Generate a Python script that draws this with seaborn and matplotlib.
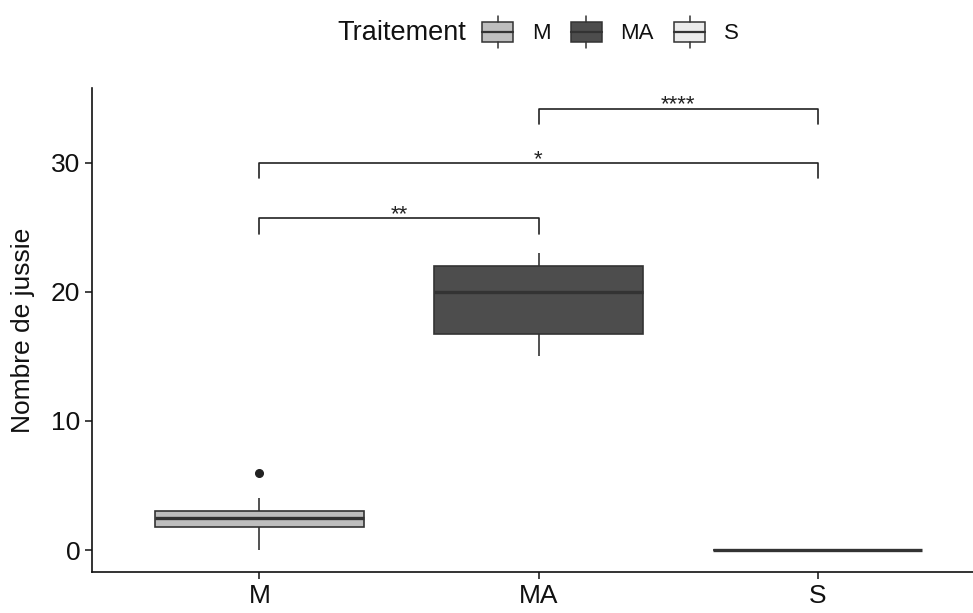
import numpy as np
import pandas as pd
import seaborn as sns
import matplotlib
matplotlib.use("Agg")
import matplotlib.pyplot as plt
from matplotlib.legend_handler import HandlerBase
from matplotlib.patches import Rectangle, Patch
from matplotlib.lines import Line2D

# Counts of jussie per treatment
traitements = ["M", "MA", "S"]
nombre_M = [0, 1, 1, 2, 2, 2, 3, 3, 3, 3, 4, 6]
nombre_MA = [15, 16, 16, 17, 19, 20, 20, 21, 22, 22, 23, 23]
nombre_S = [0, 0, 0, 0, 0, 0, 0, 0, 0, 0, 0, 0]
couleurs = ["#BEBEBE", "#4D4D4D", "#EBEBEB"]

# Pairwise comparisons and their significance labels
paires = [("M", "MA"), ("M", "S"), ("MA", "S")]
signif = ["**", "*", "****"]
hauteurs = [25.7, 30.0, 34.2]

df = pd.DataFrame({
    "Traitement": (["M"] * len(nombre_M) + ["MA"] * len(nombre_MA)
                   + ["S"] * len(nombre_S)),
    "Nombre": nombre_M + nombre_MA + nombre_S,
})

sns.set_theme(style="ticks")
plt.rcParams["font.family"] = ["Liberation Sans", "DejaVu Sans"]

fig = plt.figure(figsize=(9.73, 6.13), dpi=100)
ax = fig.add_axes([92 / 973, 41 / 613, 893 / 973, 484 / 613])

edge = "#333333"
sns.boxplot(
    data=df, x="Traitement", y="Nombre", hue="Traitement",
    order=traitements, hue_order=traitements, palette=couleurs,
    dodge=False, width=0.75, legend=False, ax=ax,
    linewidth=1.2, linecolor=edge,
    whis=1.5,
    medianprops=dict(color=edge, linewidth=2.4),
    whiskerprops=dict(color=edge, linewidth=1.2),
    capprops=dict(linewidth=0),
    flierprops=dict(marker="o", markerfacecolor="#222222",
                    markeredgecolor="#222222", markersize=5.5),
)

ax.set_xlim(-0.6, 2.6)
ax.set_ylim(-1.7, 35.8)
ax.set_yticks([0, 10, 20, 30])
ax.set_xlabel("")
ax.set_ylabel("Nombre de jussie", fontsize=19, color="#111111")
ax.yaxis.set_label_coords(-0.064, 0.5)
ax.tick_params(axis="both", labelsize=19, colors="#111111", length=5,
               width=1.1, direction="out")
for s in ["top", "right"]:
    ax.spines[s].set_visible(False)
for s in ["left", "bottom"]:
    ax.spines[s].set_linewidth(1.2)
    ax.spines[s].set_color("#111111")

# Significance brackets
pos = {t: i for i, t in enumerate(traitements)}
tip = 1.2
for (a, b), lab, h in zip(paires, signif, hauteurs):
    xa, xb = pos[a], pos[b]
    ax.plot([xa, xa, xb, xb], [h - tip, h, h, h - tip],
            color="#222222", linewidth=1.2, clip_on=False)
    ax.text((xa + xb) / 2, h - 0.15, lab, ha="center", va="baseline",
            fontsize=16, color="#222222")


class BoxKey(HandlerBase):
    def create_artists(self, legend, orig_handle, xdescent, ydescent,
                       width, height, fontsize, trans):
        x0, y0 = -xdescent, -ydescent
        fc = orig_handle.get_facecolor()
        rect = Rectangle((x0, y0), width, height, facecolor=fc,
                         edgecolor=edge, linewidth=1.1, transform=trans)
        med = Line2D([x0, x0 + width], [y0 + height / 2] * 2,
                     color=edge, linewidth=1.6, transform=trans)
        xm = x0 + width / 2
        w1 = Line2D([xm, xm], [y0 + height, y0 + height * 1.3],
                    color=edge, linewidth=1.1, transform=trans)
        w2 = Line2D([xm, xm], [y0, y0 - height * 0.3],
                    color=edge, linewidth=1.1, transform=trans)
        return [rect, med, w1, w2]


handles = [Patch(facecolor=c) for c in couleurs]
leg = fig.legend(handles, traitements, handler_map={Patch: BoxKey()},
                 loc="center left", bbox_to_anchor=(482 / 973, 1 - 33 / 613),
                 ncol=3, frameon=False, fontsize=16, borderpad=0,
                 borderaxespad=0, handlelength=1.4, handleheight=1.0,
                 handletextpad=0.85, columnspacing=0.9)
for t in leg.get_texts():
    t.set_color("#111111")
fig.text(466 / 973, 1 - 33 / 613, "Traitement", ha="right", va="center",
         fontsize=19.5, color="#111111")

fig.savefig("out.png", dpi=100)
